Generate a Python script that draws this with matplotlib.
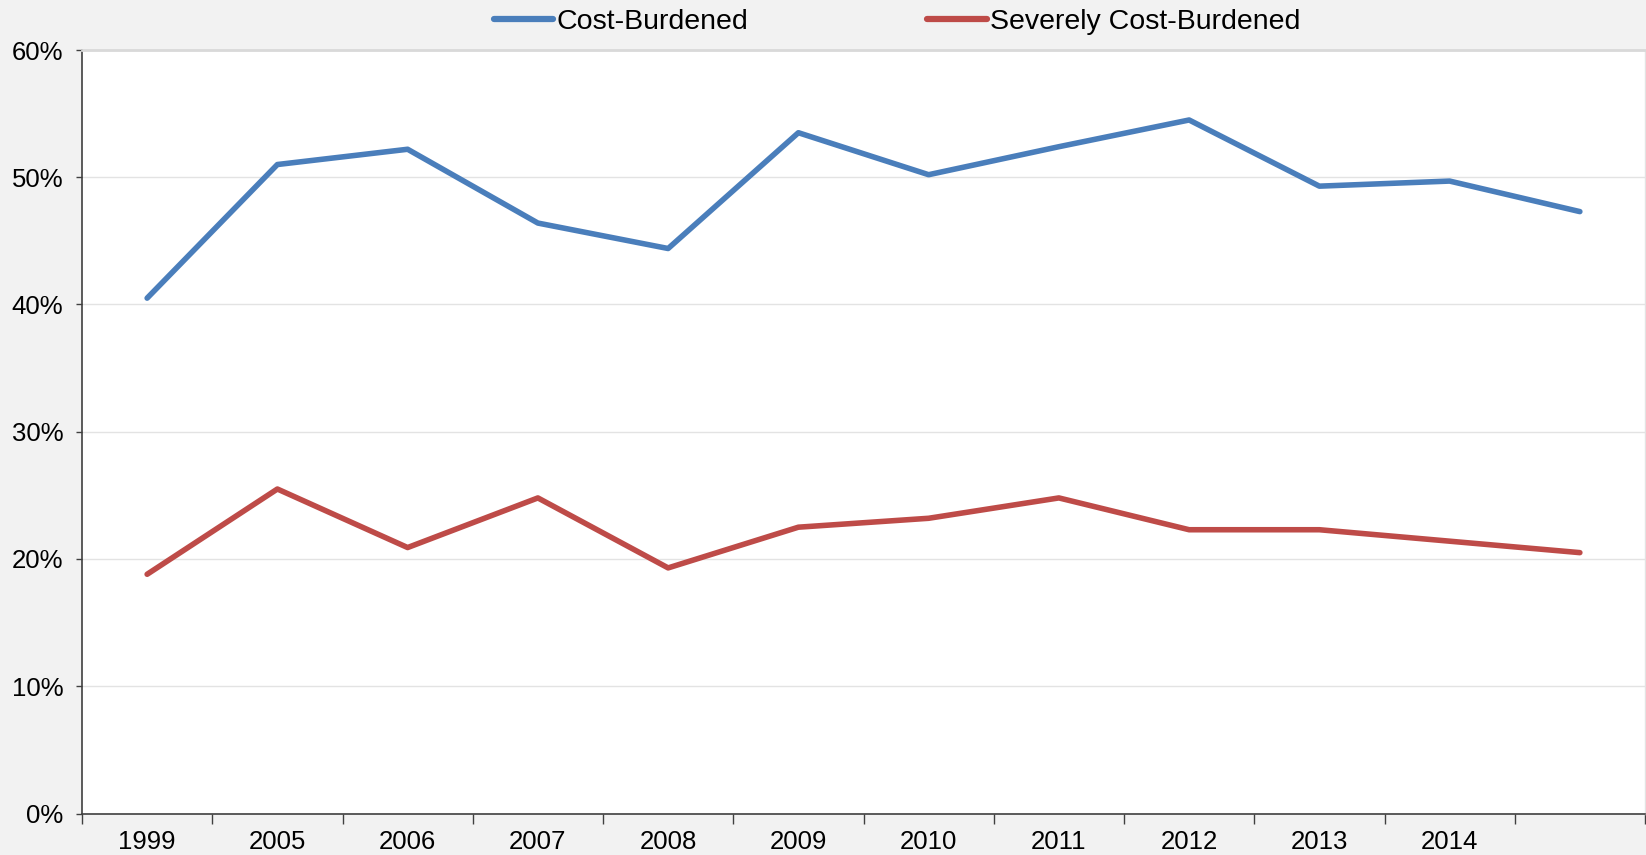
import numpy as np
import matplotlib
matplotlib.use("Agg")
import matplotlib.pyplot as plt
from matplotlib.ticker import FixedLocator, PercentFormatter

plt.rcParams['font.family'] = ['Liberation Sans', 'DejaVu Sans']

years = ['1999', '2005', '2006', '2007', '2008', '2009', '2010',
         '2011', '2012', '2013', '2014', '']
cost_burdened = [40.5, 51.0, 52.2, 46.4, 44.4, 53.5, 50.2, 52.4, 54.5, 49.3, 49.7, 47.3]
severely_burdened = [18.8, 25.5, 20.9, 24.8, 19.3, 22.5, 23.2, 24.8, 22.3, 22.3, 21.4, 20.5]

BLUE = '#4a7ebb'
RED = '#be4b48'
BG = '#f2f2f2'

fig = plt.figure(figsize=(16.46, 8.55), dpi=100, facecolor=BG)
ax = fig.add_axes([82 / 1646, 41.5 / 855, (1645 - 82) / 1646, (813.5 - 50) / 855])
ax.set_facecolor('white')

x = np.arange(len(years))
ax.plot(x, cost_burdened, color=BLUE, lw=4.0, solid_capstyle='round',
        solid_joinstyle='round', label='Cost-Burdened', zorder=3)
ax.plot(x, severely_burdened, color=RED, lw=4.0, solid_capstyle='round',
        solid_joinstyle='round', label='Severely Cost-Burdened', zorder=3)

ax.set_xlim(-0.5, len(years) - 0.5)
ax.set_ylim(0, 60)

# y axis: percentage ticks with light gridlines
ax.set_yticks(np.arange(0, 61, 10))
ax.yaxis.set_major_formatter(PercentFormatter(decimals=0))
ax.grid(axis='y', color='#e3e3e3', lw=1.0, zorder=0)
ax.tick_params(axis='y', length=4.5, width=1, color='#404040', labelsize=18.5,
               pad=9, direction='out')

# x axis: labels centred in categories, tick marks on category boundaries
ax.set_xticks(x)
ax.set_xticklabels(years)
ax.xaxis.set_minor_locator(FixedLocator(np.arange(-0.5, len(years) - 0.4, 1.0)))
ax.tick_params(axis='x', which='major', length=0, labelsize=18.5, pad=12)
ax.tick_params(axis='x', which='minor', length=7, width=1, color='#404040')

for side in ('left', 'bottom'):
    ax.spines[side].set_color('#404040')
    ax.spines[side].set_linewidth(1.2)
ax.spines['top'].set_color('#d9d9d9')
ax.spines['top'].set_linewidth(2.0)
ax.spines['right'].set_color('#e3e3e3')
ax.spines['right'].set_linewidth(1.0)

leg = fig.legend(loc='center', bbox_to_anchor=(897 / 1646, 1 - 22 / 855), ncol=2,
                 frameon=False, fontsize=20.5, handlelength=2.1, handletextpad=0.1,
                 columnspacing=6.3)
for line in leg.get_lines():
    line.set_linewidth(4.5)

fig.savefig('out.png', dpi=100, facecolor=BG)
